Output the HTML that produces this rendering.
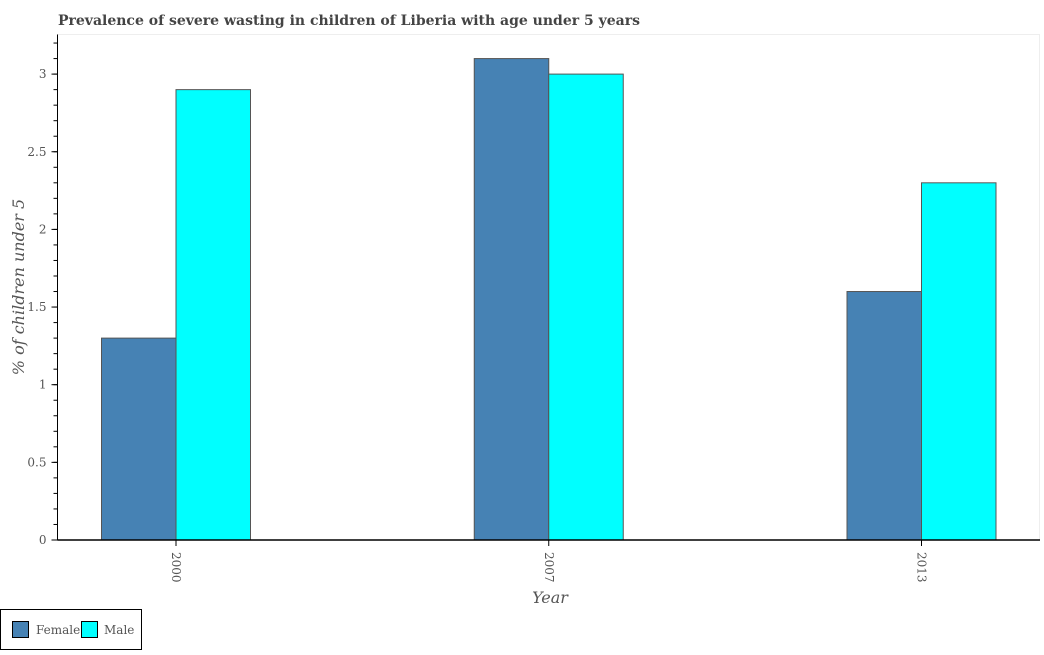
<!DOCTYPE html>
<html><head><meta charset="utf-8"><style>
body{margin:0;background:#fff;}
svg text{font-family:"DejaVu Serif","Liberation Serif",serif;}
</style></head><body>
<svg width="1044" height="650" xmlns="http://www.w3.org/2000/svg">
<text x="58" y="25" font-size="14" font-weight="bold" fill="#444">Prevalence of severe wasting in children of Liberia with age under 5 years</text>
<rect x="57.5" y="34.5" width="982" height="505.5" fill="none" stroke="#eee"/>
<g id="bars"></g>
<g id="yaxis"></g>
<g id="xaxis"></g>
<text transform="translate(24,287) rotate(-90)" text-anchor="middle" font-size="16" font-style="italic" fill="#555">% of children under 5</text>
<text x="550" y="603" text-anchor="middle" font-size="16" font-style="italic" fill="#555">Year</text>
<g>
<rect x="0.5" y="609.5" width="141" height="40" fill="#fff" stroke="#000"/>
<rect x="12.5" y="621.5" width="16" height="16" fill="#4682b4" stroke="#000"/>
<text x="36" y="634" font-size="12" fill="#555">Female</text>
<rect x="81.5" y="621.5" width="16" height="16" fill="#00ffff" stroke="#000"/>
<text x="104" y="634" font-size="12" fill="#555">Male</text>
</g>
</svg>
<script>
const categories=["2000","2007","2013"];
const female=[1.3,3.1,1.6];
const male=[2.9,3.0,2.3];
const yTicks=[0,0.5,1,1.5,2,2.5,3];
const NS="http://www.w3.org/2000/svg";
const x0=57.5,x1=1040,y0=540,yTop=34.5,yMax=3.255;
function y(v){return y0-(v/yMax)*(y0-yTop);}
const pad=118.5,step=(x1-x0-2*pad)/(categories.length-1);
function xc(i){return x0+pad+i*step;}
const bw=74.5;
function mk(tag,attrs,parent){const e=document.createElementNS(NS,tag);for(const k in attrs)e.setAttribute(k,attrs[k]);parent.appendChild(e);return e;}
const bars=document.getElementById('bars');
categories.forEach((c,i)=>{
 const f=mk('rect',{x:xc(i)-bw,y:y(female[i]),width:bw,height:y0-y(female[i]),fill:'#4682b4',stroke:'#555','stroke-width':1},bars);
 
 
 const m=mk('rect',{x:xc(i),y:y(male[i]),width:bw,height:y0-y(male[i]),fill:'#00ffff',stroke:'#555','stroke-width':1},bars);
 
 
});
const ya=document.getElementById('yaxis');
const yl=mk('line',{x1:x0,x2:x0,y1:yTop,y2:y0,stroke:'#000'},ya);


for(let v=0;v<=3.25;v+=0.1){mk('line',{x1:x0-4,x2:x0,y1:y(v),y2:y(v),stroke:'#000'},ya);}
yTicks.forEach(t=>{
 mk('line',{x1:x0-6,x2:x0,y1:y(t),y2:y(t),stroke:'#000'},ya);
 const tx=mk('text',{x:x0-11,y:y(t)+4,'text-anchor':'end','font-size':12,fill:'#555'},ya);
 tx.textContent=String(t);
 
 
});
const xa=document.getElementById('xaxis');
const xl=mk('line',{x1:x0,x2:x1,y1:y0,y2:y0,stroke:'#000','stroke-width':1.5},xa);


categories.forEach((c,i)=>{
 mk('line',{x1:xc(i),x2:xc(i),y1:y0,y2:y0+6,stroke:'#000'},xa);
 const t=mk('text',{transform:`translate(${xc(i)-4},${y0+12}) rotate(90)`,'font-size':12,fill:'#555'},xa);
 t.textContent=c;
 
 
});
</script>
</body></html>
